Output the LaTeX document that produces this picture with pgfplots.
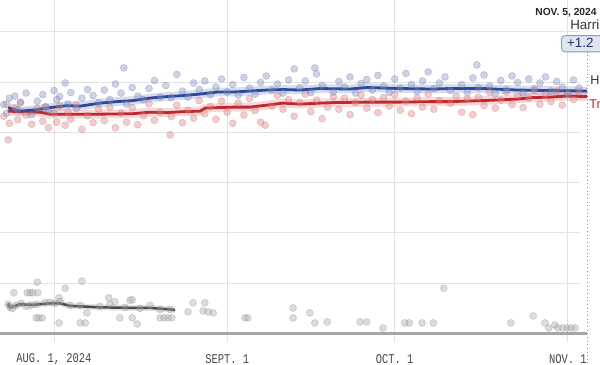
\documentclass[border=0pt]{standalone}
\usepackage{pgfplots}
\pgfplotsset{compat=1.18}
\usepackage{pgfplotstable}
\usepackage{fontspec}
\setmainfont{Liberation Sans}
\newfontfamily\tickfont[FakeStretch=0.78]{Liberation Mono}
\definecolor{harris}{HTML}{2B4A9B}
\definecolor{trump}{HTML}{C0282D}
\definecolor{other}{HTML}{4A4A4A}
\definecolor{hdot}{HTML}{7F8FC4}
\definecolor{tdot}{HTML}{E58080}
\definecolor{odot}{HTML}{A8A8A8}
\definecolor{gridc}{HTML}{E2E2E2}

\pgfplotstableread{
d v
-8.24 44.9
-6.09 44.2
-3.76 44.4
-0.72 44.9
2.33 45.3
4.66 45.2
8.24 45.8
11.28 46.1
14.14 46.3
17.19 46.8
20.23 47.1
23.10 47.3
26.14 47.6
29.19 48.0
32.05 48.0
35.09 48.2
38.14 48.4
41.00 48.5
44.05 48.4
47.63 48.7
53.0 48.6
56.05 48.9
61.95 48.7
67.86 48.6
70.91 48.7
76.82 48.7
82.9 48.4
88.81 48.3
95.44 48.2
}\harrisline

\pgfplotstableread{
d v
-8.24 44.2
-6.09 44.1
-2.51 44.0
-0.72 43.6
2.33 43.6
8.24 43.6
14.14 43.7
17.19 44.0
20.23 43.9
23.10 44.1
26.14 44.2
27.04 44.8
29.19 44.9
32.05 45.0
35.09 45.0
38.14 45.4
41.00 45.8
44.05 45.6
47.63 45.8
49.96 45.9
56.05 46.0
61.95 46.0
67.86 46.1
70.91 46.1
76.82 46.3
82.9 46.6
85.77 46.9
88.81 47.0
91.86 47.2
95.44 47.1
}\trumpline

\pgfplotstableread{
d v
-8.24 6.0
-7.9 5.2
-7.5 5.3
-6.09 5.8
-3.76 5.7
-0.72 6.0
1.07 6.0
2.86 5.5
8.24 5.2
14.14 5.1
17.19 5.1
21.67 4.7
}\otherline

\pgfplotstableread{
d v
-9 45.5
-8.5 43.8
-8 46.8
-7 47.2
-6.5 44.5
-6 45.9
-5 47.8
-4 43.5
-3 46.2
-2 47.5
-1.5 45.0
-1 44.2
0 48.3
0.5 46.5
1 47.1
2 49.8
2.5 45.6
3 47.9
4 44.8
5 46.8
6 48.5
7 47.3
8 45.9
9 48.4
10 46.5
11 49.6
12 47.8
12.5 52.8
13 45.6
14 48.9
15 47.2
16 46.5
17 48.7
18 50.3
19 47.0
20 49.3
21 46.9
22 51.5
23 48.2
24 47.0
25 49.8
26 48.5
27 50.2
28 47.5
29 49.0
30 50.6
31 48.0
32 49.5
33 47.4
34 50.9
35 48.8
36 47.6
37 49.9
38 51.2
39 48.4
40 49.6
41 47.8
42 50.4
43 52.6
44 48.9
45 50.2
46 47.9
46.7 52.8
47 51.6
48 49.3
50 48.0
51 50.1
52 49.0
53 51.0
54 47.8
55 49.7
56 50.5
57 48.4
58 51.3
59 49.2
60 47.9
61 50.6
62 48.8
63 51.7
64 49.5
65 48.1
66 50.2
67 52.0
68 48.7
69 49.8
70 51.0
71 48.3
73 49.5
74 47.9
75 50.8
75.7 53.4
76 48.9
77 51.4
78 49.2
79 47.6
80 50.3
81 48.5
82 51.2
83 49.9
84 47.8
85 50.6
86 48.7
87 49.8
88 51.0
89 48.2
90 50.1
91 49.0
92 47.6
93 50.4
94 48.8
}\harrisdots

\pgfplotstableread{
d v
-9 43.2
-8.5 45.6
-8 41.8
-8.2 38.5
-7 44.9
-6.5 42.5
-6 46.0
-5 43.4
-4 41.6
-3 44.8
-2 42.2
-1.5 45.1
-1 40.9
0 43.8
0.5 42.0
1 45.2
2 41.4
2.5 44.0
3 42.6
4 45.5
5 40.6
6 43.3
7 41.9
8 44.6
9 42.3
10 45.0
11 40.9
12 43.8
13 42.0
14 44.9
15 41.5
16 43.3
17 45.7
18 42.4
19 44.0
20.8 39.5
21 43.1
22 45.4
23 41.9
24 44.4
25 42.8
26 46.3
27 43.7
28 45.1
29 42.6
30 46.2
31 44.0
32 41.8
33 45.8
34 43.4
35 46.7
36 44.3
37 42.0
37.8 41.4
39 45.2
40 47.3
41 44.6
42 46.5
43 43.2
44 45.9
45 47.6
46 44.1
47 46.4
48 42.7
49 45.0
50 47.1
51 44.6
52 46.8
53 43.5
54 45.9
55 47.4
56 44.8
57 46.5
58 43.9
59 46.9
60 45.2
61 47.5
62 44.4
63 46.2
64 43.7
65 46.8
66 45.0
67 47.6
68 44.6
69 46.3
71 45.8
72 47.2
73 44.0
74 46.6
75 43.5
76 47.0
77 45.3
78 47.9
79 44.8
80 46.4
81 48.0
82 45.5
83 47.3
84 44.9
85 46.8
86 48.3
87 45.6
88 47.5
89 46.1
90 48.2
91 45.4
92 47.7
93 46.5
94 48.0
}\trumpdots

\pgfplotstableread{
d v
-3.0 10.2
-7.2 8.1
-4.8 8.1
-4.3 8.1
-3.8 8.1
-2.9 8.1
2.0 9.0
5.0 10.4
0.9 7.1
9.8 7.1
10.9 6.3
14.0 6.7
24.9 6.1
27.0 6.1
24.0 4.3
26.7 4.5
27.6 4.3
28.5 4.1
-3.2 3.1
-2.7 3.1
-2.1 3.1
0.9 2.1
4.7 2.1
5.6 2.1
5.9 4.1
11.8 3.1
14.0 3.1
14.9 1.9
19.0 3.1
19.7 3.1
20.4 3.1
21.1 3.1
34.2 3.1
34.7 3.1
42.8 5.1
42.8 3.1
45.8 4.1
46.7 2.1
48.9 2.3
54.8 2.3
56.0 2.3
58.9 1.1
62.8 2.1
63.6 2.1
65.9 2.1
67.9 2.1
69.8 9.0
81.8 2.1
85.8 3.5
87.9 2.1
88.6 1.1
89.7 1.7
90.2 1.1
91.1 1.1
91.9 1.1
92.6 1.1
93.3 1.1
-8.2 5.8
-7.8 5.2
-7.4 5.0
-6.8 5.6
-5.9 6.0
-5.0 5.4
-4.1 5.6
-3.2 5.8
-1.6 6.2
-0.7 6.2
0.2 6.0
1.1 6.4
2.9 5.6
4.7 5.6
8.2 5.4
10.0 5.8
12.7 5.2
13.6 6.6
15.4 5.0
17.2 5.6
19.0 4.8
20.8 4.8
}\otherdots

\begin{document}
\begin{tikzpicture}
\useasboundingbox (0,-0.7875cm) rectangle (15cm,8.3375cm);
\clip (0,-0.7875cm) rectangle (15cm,8.3375cm);
\begin{axis}[
  at={(0,0)}, anchor=south west,
  scale only axis, width=14.5cm, height=8.3375cm,
  xmin=-9.669, xmax=94.18, ymin=0, ymax=66.3,
  clip=false,
  axis line style={draw=none},
  xtick={0,31,61,92},
  xticklabels={AUG. 1{,} 2024, SEPT. 1, OCT. 1, NOV. 1},
  xtick pos=bottom, ytick pos=left,
  tick align=outside,
  major tick length=0.225cm,
  x tick style={draw=gridc, line width=0.6pt},
  y tick style={draw=none},
  ytick={10,20,30,40,50,60},
  yticklabels={},
  xmajorgrids, ymajorgrids,
  grid style={draw=gridc, line width=0.6pt},
  xticklabel style={anchor=center, yshift=-0.41cm, text=black!72,
    font=\tickfont\fontsize{9.5}{10}\selectfont},
]
% bottom baseline and Nov 5 marker
\draw[draw=black!35, line width=1.6pt] (axis cs:-9.669,0) -- (axis cs:95.5,0);
\draw[draw=black!45, dotted, line width=0.6pt] (axis cs:95.5,56) -- (axis cs:95.5,-6.3);

\addplot[only marks, mark=*, mark size=2.5pt,
  mark options={fill=odot, draw=odot!80!black, fill opacity=0.4, draw opacity=0.35, line width=0.4pt}]
  table[x=d,y=v] {\otherdots};
\addplot[only marks, mark=*, mark size=2.5pt,
  mark options={fill=tdot, draw=tdot!75!black, fill opacity=0.4, draw opacity=0.3, line width=0.4pt}]
  table[x=d,y=v] {\trumpdots};
\addplot[only marks, mark=*, mark size=2.5pt,
  mark options={fill=hdot, draw=hdot!75!black, fill opacity=0.4, draw opacity=0.3, line width=0.4pt}]
  table[x=d,y=v] {\harrisdots};

\addplot[no marks, draw=hdot, opacity=0.3, line width=0.22cm] table[x=d,y=v] {\harrisline};
\addplot[no marks, draw=tdot, opacity=0.3, line width=0.22cm] table[x=d,y=v] {\trumpline};
\addplot[no marks, draw=odot, opacity=0.3, line width=0.15cm] table[x=d,y=v] {\otherline};

\addplot[no marks, draw=other, line width=1.8pt] table[x=d,y=v] {\otherline};
\addplot[no marks, draw=trump, line width=2pt] table[x=d,y=v] {\trumpline};
\addplot[no marks, draw=harris, line width=2pt] table[x=d,y=v] {\harrisline};

% labels
\node[anchor=east, inner sep=0pt, text=black!85, font=\bfseries\fontsize{7.3}{8}\selectfont]
  at (axis cs:97.2,63.8) {NOV. 5, 2024};
\node[anchor=west, inner sep=0pt, text=black!80, font=\fontsize{9.5}{11}\selectfont]
  at (axis cs:92.4,61.3) {Harris};
\node[anchor=west, draw=harris!55, fill=harris!15, rounded corners=2.5pt, line width=0.6pt,
  inner xsep=4pt, inner ysep=1.5pt, text=harris!70!black, font=\fontsize{9.5}{10}\selectfont]
  at (axis cs:90.8,57.6) {+1.2 \phantom{pts}};
\node[anchor=west, inner sep=0pt, text=harris!75!black, font=\fontsize{9}{10}\selectfont]
  at (axis cs:96.0,50.4) {Harris};
\node[anchor=west, inner sep=0pt, text=trump, font=\fontsize{9}{10}\selectfont]
  at (axis cs:95.8,45.4) {Trump};
\end{axis}
\end{tikzpicture}
\end{document}
